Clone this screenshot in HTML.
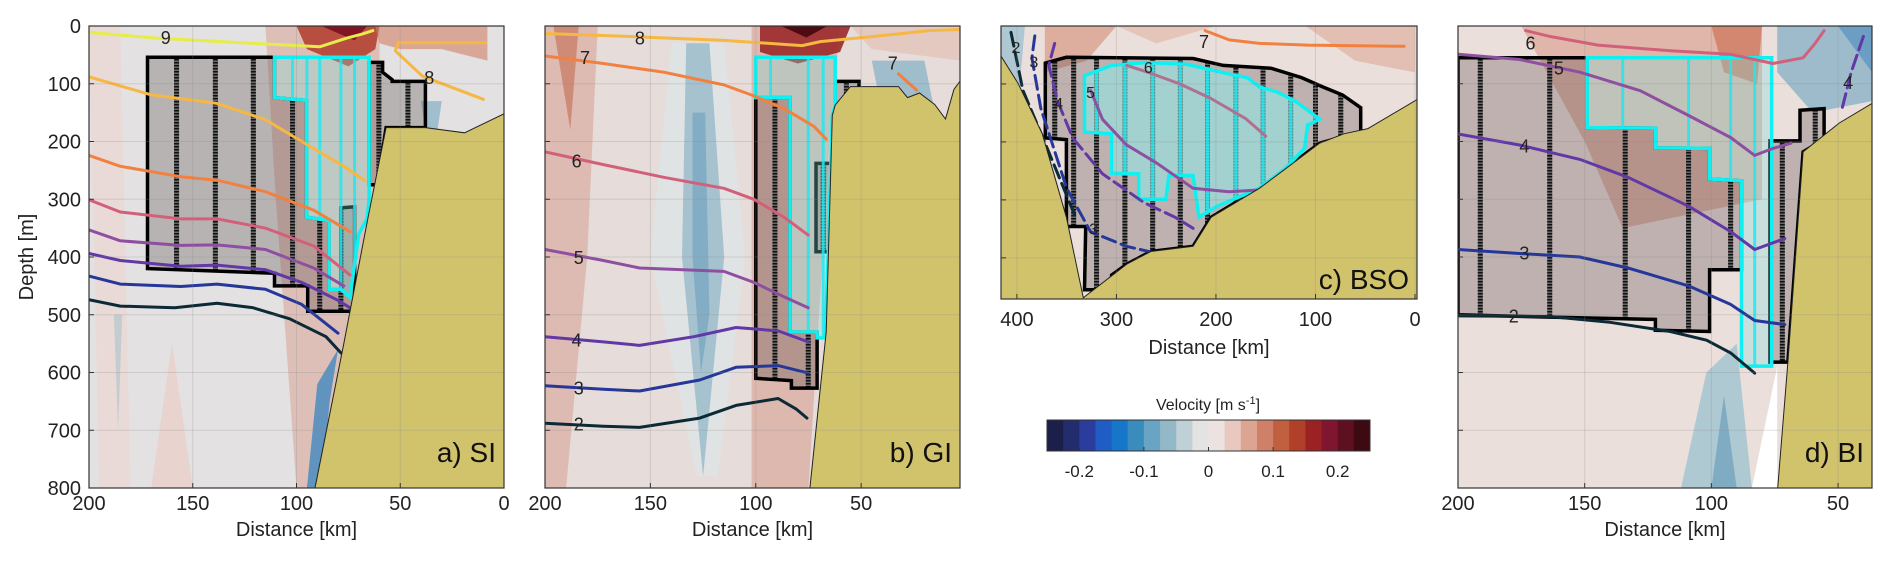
<!DOCTYPE html>
<html><head><meta charset="utf-8">
<style>
html,body{margin:0;padding:0;background:#fff;}
svg{display:block;font-family:"Liberation Sans",sans-serif;}
</style></head>
<body>
<svg id="fig" width="1892" height="568" viewBox="0 0 1892 568" xmlns="http://www.w3.org/2000/svg">
<defs id="defs"></defs>
</svg>
<script>
// ---------- DATA ----------
// panel a contours (km, m)
const a9km=[200,167.4,126.6,88.8,75.7,68.4,63.2], a9m=[11,21,29,36,21,14,8];
const a8km=[200,170.3,138.3,115,94.6,77.2,67], a8m=[88,119,134,162,206,243,268];
const a8bkm=[8.7,51,52.4,39.3,10], a8bm=[29,29,43,87,127];
const a7km=[200,184.9,155.8,138.3,115,91.7,74.2], a7m=[224,243,261,267,287,319,356];
const a6km=[200,184.9,155.8,138.3,115,91.7,74.2], a6m=[301,322,334,334,350,381,431];
const a5km=[200,184.9,155.8,138.3,115,91.7,77.2], a5m=[353,372,380,379,387,419,450];
const a4km=[200,184.9,155.8,138.3,115,97.5,80,74.2], a4m=[394,406,416,414,422,444,475,488];
const a3km=[200,184.9,155.8,138.3,115,97.5,80], a3m=[433,447,451,447,456,482,532];
const a2km=[200,184.9,158.7,138.3,120.8,103.3,85.8,78.6], a2m=[474,485,488,480,488,507,538,566];
const aBathyKm=[91.1,77.2,65.5,56.8,37.9,19,0,0], aBathyM=[800,550,331,176,176,185,152,800];
const aBoxKm=[171.8,110.6,110.6,95.2,95.2,84.4,84.4,78.6,78.6,72,72,94.6,94.6,110.6,110.6,171.8];
const aBoxM=[54,54,124,129,331,337,456,456,315,313,494,494,450,450,428,420];
const aBox2Km=[65,58.5,58.5,53.9,53.9,37.9,37.9,56.8,61.1,65], aBox2M=[63,63,80,93,96,96,176,176,275,275];
const aCyKm=[110.6,65,65,66,70,74.2,78.6,84.4,84.4,95.2,95.2,110.6], aCyM=[54,54,300,334,360,470,456,456,337,331,129,124];
const aStripKm=[157.8,139.1,120.8,101.9,88.8,78.6,69,60.3,46.3];
const aCyStripKm=[101.9,95,88.8,78.6,72];
// panel b
const b8km=[200,160.9,115.1,78,69.4,43.7,18,3], b8m=[13,18,25,34,27,18,8,6];
const b7km=[200,172.3,143.7,115.1,100.9,86.6,72.3,66.6], b7m=[52,65,80,102,121,143,174,196];
const b7bkm=[32.3,23.7], b7bm=[83,111];
const b6km=[200,172.3,143.7,115.1,100.9,86.6,75.1], b6m=[218,240,262,281,300,331,362];
const b5km=[200,172.3,155.1,115.1,100.9,86.6,75.1], b5m=[387,406,419,425,444,469,488];
const b4km=[200,172.3,155.1,129.4,109.4,89.4,75.1], b4m=[538,547,553,538,522,528,547];
const b3km=[200,172.3,155.1,126.6,109.4,89.4,75.1], b3m=[623,629,632,613,591,588,601];
const b2km=[200,172.3,155.1,126.6,109.4,89.4,80.9,75.7], b2m=[688,693,695,679,657,645,663,679];
const bBathyKm=[74.3,66.6,63.7,62.3,55.1,32.3,28,22.3,15.1,10,6,3,3], bBathyM=[800,530,155,137,105,105,124,116,136,161,110,95,800];
const bBoxKm=[100,83.7,83.7,70.9,70.9,83.1,83.1,100], bBoxM=[124,124,530,530,627,627,614,610];
const bBox2Km=[71.4,63.7,63.7,71.4], bBox2M=[238,238,391,391];
const bBox3Km=[62.3,51,51,55.1,58,62.3], bBox3M=[96,96,110,110,135,135];
const bCyKm=[100,62.3,62.3,63.7,65.5,67,70.9,70.9,83.7,83.7,100], bCyM=[54,54,137,155,380,540,540,530,530,124,124];
const bStripKm=[90.9,75.1,60];
const bCyStripKm=[93,75.1,68];
// panel c
const c7km=[210.9,186.7,156.4,108,11], c7m=[8,24,30,33,35];
const c6km=[289.7,268,236,205,170,150], c6m=[68,80,100,125,160,190];
const c5km=[326,314,290,260,223,187,157], c5m=[111,161,205,236,280,286,283];
const c4km=[362,368,359,344,314,272,241,223], c4m=[30,68,130,193,255,305,330,349];
const c3km=[382,385,376,350,326,290,260], c3m=[17,55,142,280,355,380,392];
const c2km=[406,394,371,347,341], c2m=[11,111,205,305,330];
const cBathyKm=[416,416,398.8,374.5,350.3,333.3,289.7,265.5,223,204.9,156.4,132.1,95.8,71.5,47.3,-2,-2];
const cBathyM=[480,52,99,186,330,469,411,389,380,330,280,249,202,186,177,127,480];
const cBoxKm=[371.5,350.3,223,192.7,144.3,114,92.8,72.8,54.6,54.6,95.8,132.1,156.4,204.9,223,265.5,289.7,304.9,304.9,323,332.1,330.9,350.3,350.3,371.5];
const cBoxM=[64,54,56,68,73,89,105,119,141,183,202,249,280,330,380,389,411,430,449,455,455,346,346,196,193];
const cCyKm=[332.1,304.9,271.5,229.1,186.7,168.5,156.4,138.2,120,104.9,95.8,107.9,110.9,132.1,156.4,198.8,217,223,247.3,250.3,277.6,277.6,304.9,304.9,332.1];
const cCyM=[86,68,63,66,83,89,105,114,130,149,161,171,211,249,280,311,330,258,258,299,299,255,254,186,183];
const cStripKm=[362,343,320,291.5,263.6,235.8,208.5,180,152.7,124.9,100,74.6];
// panel d
const d6km=[173.3,163.8,144.8,116.2,92.4,75.7,63.8,59,55.5], d6m=[8,18,33,43,49,65,55,30,8];
const d5km=[200,175.7,151.9,128.1,109,92.4,82.9,75.7,68.6], d5m=[49,58,80,112,155,193,224,212,203];
const d4km=[200,175.7,151.9,132.9,109,92.4,82.9,71], d4m=[187,206,231,262,312,356,387,368];
const d4bkm=[40,44.8,48.4], d4bm=[18,80,143];
const d3km=[200,175.7,151.9,132.9,109,92.4,82.9,71], d3m=[387,394,400,419,450,482,510,517];
const d2km=[200,163.8,140,116.2,101.9,92.4,82.9], d2m=[502,503,513,529,544,566,601];
const dBathyKm=[73.8,69.8,63.8,56.7,49.5,36.6,36.6], dBathyM=[800,582,218,193,168,134,800];
const dBoxKm=[200,149,149,122.1,122.1,100.7,100.7,88.1,88.1,100.7,100.7,122.1,122.1,163.8,200];
const dBoxM=[55,55,176,177,211,212,265,268,422,422,529,527,508,504,500];
const dBox2Km=[76.9,65,65,55.5,55.5,63.8,69.8,76.9], dBox2M=[199,199,146,143,196,218,582,582];
const dCyKm=[149,76.2,76.2,88.1,88.1,100.7,100.7,122.1,122.1,149], dCyM=[55,55,589,589,268,265,212,211,177,176];
const dStripKm=[191.2,163.8,134,109,92.4,82.9,72,59];
const dCyStripKm=[135,109,92.4,82.9];
// colorbar
const cbColors=["#1c1f4a","#232d6e","#2a3c9c","#1f5cc4","#1676c8","#3a8cbd","#6aa4c4","#93b8c8","#bfd0d6","#e3e3e3","#ece2df","#e8c8bf","#dca592","#d08068","#c0603e","#b0402a","#9a2222","#801530","#5e1020","#3e0a12"];
const cbTicks=[-0.2,-0.1,0,0.1,0.2];
const cbLabels=["-0.2","-0.1","0","0.1","0.2"];

// ---------- DRAWING ----------
const NS="http://www.w3.org/2000/svg";
const svg=document.getElementById('fig');
const defs=document.getElementById('defs');
function mk(tag,attrs,parent){const e=document.createElementNS(NS,tag);for(const k in attrs)e.setAttribute(k,attrs[k]);(parent||svg).appendChild(e);return e;}
function panel(x0,x1,y0,y1,kL,kR,mT,mB){return {x0,x1,y0,y1,X:k=>x0+(k-kL)/(kR-kL)*(x1-x0),Y:m=>y0+(m-mT)/(mB-mT)*(y1-y0)};}
function pts(P,ks,ms){return ks.map((k,i)=>P.X(k).toFixed(1)+','+P.Y(ms[i]).toFixed(1)).join(' ');}

const PA=panel(89,504,26,488,200,0,0,800);
const PB=panel(545,960,26,488,200,3.1,0,800);
const PC=panel(1001,1417,26,299,416,-2,0,471);
const PD=panel(1458,1872,26,488,200,36.6,0,800);

function shade(g,P,ks,ms,col,op){const e=mk('polygon',{points:pts(P,ks,ms),fill:col,'fill-opacity':op},g);}
function line(g,P,ks,ms,col,dash,name){const e=mk('polyline',{points:pts(P,ks,ms),fill:'none',stroke:col,'stroke-width':3,'stroke-linejoin':'round','stroke-linecap':'round'},g);if(dash)e.setAttribute('stroke-dasharray',dash);}
function label(g,P,k,m,t,sz){const e=mk('text',{x:P.X(k),y:P.Y(m)+6,'font-size':sz||18,fill:'#222','text-anchor':'middle'},g);e.textContent=t;}
let clipId=0;
function region(g,P,ks,ms,fill,stroke,strips,stripCol,name){
  const id='clip'+(clipId++);const cp=mk('clipPath',{id},defs);mk('polygon',{points:pts(P,ks,ms)},cp);
  const e=mk('polygon',{points:pts(P,ks,ms),fill:fill},g);
  const sg=mk('g',{'clip-path':'url(#'+id+')'},g);
  strips.forEach(k=>{const x=P.X(k);
    if(stripCol==='dark'){mk('line',{x1:x,x2:x,y1:P.y0,y2:P.y1,stroke:'#666','stroke-width':5},sg);mk('line',{x1:x,x2:x,y1:P.y0,y2:P.y1,stroke:'#111','stroke-width':5,'stroke-dasharray':'1.5 1.5'},sg);}
    else{mk('line',{x1:x,x2:x,y1:P.y0,y2:P.y1,stroke:'#22e8ee','stroke-width':3,'stroke-opacity':0.85},sg);}
  });
  const o=mk('polygon',{points:pts(P,ks,ms),fill:'none',stroke:stroke,'stroke-width':3.5,'stroke-linejoin':'miter'},g);
  
}
function frame(P,name,xt,xl,yt,yl,tag,tagBase,xlY,tickY){
  const g=mk('g',{});
  const id='pc'+(clipId++);const cp=mk('clipPath',{id},defs);mk('rect',{x:P.x0,y:P.y0,width:P.x1-P.x0,height:P.y1-P.y0},cp);
  const inner=mk('g',{'clip-path':'url(#'+id+')'},g);
  return {g,inner,finish:function(){
    const gg=mk('g',{},g);
    xt.forEach(k=>{const x=P.X(k);mk('line',{x1:x,x2:x,y1:P.y0,y2:P.y1,stroke:'#888','stroke-opacity':0.25,'stroke-width':1},gg);mk('line',{x1:x,x2:x,y1:P.y1,y2:P.y1-5,stroke:'#333'},gg);});
    yt.forEach(m=>{const y=P.Y(m);mk('line',{x1:P.x0,x2:P.x1,y1:y,y2:y,stroke:'#888','stroke-opacity':0.25,'stroke-width':1},gg);mk('line',{x1:P.x0,x2:P.x0+5,y1:y,y2:y,stroke:'#333'},gg);});
    const b=mk('rect',{x:P.x0,y:P.y0,width:P.x1-P.x0,height:P.y1-P.y0,fill:'none',stroke:'#333','stroke-width':1.2},g);
    xt.forEach((k,i)=>{const t=mk('text',{x:P.X(k),y:tickY,'font-size':20,'text-anchor':'middle',fill:'#222'},g);t.textContent=xl[i];});
    if(yl){yt.forEach((m,i)=>{const t=mk('text',{x:P.x0-8,y:P.Y(m)+7,'font-size':20,'text-anchor':'end',fill:'#222'},g);t.textContent=yl[i];});}
    const xt2=mk('text',{x:(P.x0+P.x1)/2,y:xlY,'font-size':20,'text-anchor':'middle',fill:'#222'},g);xt2.textContent='Distance [km]';
    const tg=mk('text',{x:P.x1-8,y:tagBase,'font-size':28,'text-anchor':'end',fill:'#111'},g);tg.textContent=tag;
  }};
}
const depthTicks=[0,100,200,300,400,500,600,700,800];
const depthLabels=["0","100","200","300","400","500","600","700","800"];
const C={c9:'#e6ec4a',c8:'#f6b743',c7:'#f2803f',c6:'#d2607a',c5:'#8e4fa0',c4:'#6238a6',c3:'#26379a',c2:'#0b2a36'};

// ---- Panel a
let F=frame(PA,'panel-a-si',[200,150,100,50,0],["200","150","100","50","0"],depthTicks,depthLabels,'a) SI',462,536,510);
let g=F.inner;
mk('rect',{x:PA.x0,y:PA.y0,width:415,height:462,fill:'#e3e1e1'},g);
shade(g,PA,[200,185,180,195],[0,0,800,800],'#ead8d5',0.8);
shade(g,PA,[170,150,160],[800,800,550],'#e9cfc9',0.8);
shade(g,PA,[115,60,60,85,100,110],[0,0,300,800,800,300],'#d9a89c',0.6);
shade(g,PA,[100,60,62,75,95],[0,0,40,70,40],'#b03a2a',0.85);
shade(g,PA,[88,66,72],[0,0,25],'#7a1020',0.9);
shade(g,PA,[62,8,8,30,50,60],[0,0,60,40,40,30],'#d08068',0.6);
shade(g,PA,[95,88,84,80,90],[800,800,650,560,620],'#4a8cbf',0.85);
shade(g,PA,[40,30,35],[130,130,250],'#8fb5c8',0.8);
shade(g,PA,[188,184,186],[500,500,700],'#9fbdca',0.5);
region(g,PA,aBoxKm,aBoxM,'rgba(70,55,55,0.27)','#000',aStripKm,'dark','source-water-box');
region(g,PA,aBox2Km,aBox2M,'rgba(70,55,55,0.27)','#000',[60.3,46.3],'dark','shelf-box');
region(g,PA,aCyKm,aCyM,'rgba(120,225,225,0.3)','#10f0f0',aCyStripKm,'cyan','current-core-region');
line(g,PA,a9km,a9m,C.c9,null,'contour-9');
line(g,PA,a8km,a8m,C.c8,null,'contour-8');
line(g,PA,a8bkm,a8bm,C.c8,null,'contour-8-shelf');
line(g,PA,a7km,a7m,C.c7,null,'contour-7');
line(g,PA,a6km,a6m,C.c6,null,'contour-6');
line(g,PA,a5km,a5m,C.c5,null,'contour-5');
line(g,PA,a4km,a4m,C.c4,null,'contour-4');
line(g,PA,a3km,a3m,C.c3,null,'contour-3');
line(g,PA,a2km,a2m,C.c2,null,'contour-2');
mk('polygon',{points:pts(PA,aBathyKm,aBathyM),fill:'#d1c36c',stroke:'#222','stroke-width':1},g);
label(g,PA,163,21,'9');label(g,PA,36,90,'8');
F.finish();

// ---- Panel b
F=frame(PB,'panel-b-gi',[200,150,100,50],["200","150","100","50"],depthTicks,null,'b) GI',462,536,510);
g=F.inner;
mk('rect',{x:PB.x0,y:PB.y0,width:415,height:462,fill:'#e6dcda'},g);
shade(g,PB,[200,175,180,190,200],[0,0,400,800,800],'#d9a89c',0.65);
shade(g,PB,[196,184,188],[0,0,180],'#c87860',0.7);
shade(g,PB,[140,115,105,118,128,150],[30,30,400,780,780,400],'#dfe3e4',0.9);
shade(g,PB,[133,122,115,125,135],[30,30,400,780,400],'#9bbccb',0.85);
shade(g,PB,[130,124,122,126,130],[150,150,500,600,400],'#7aa8c0',0.8);
shade(g,PB,[102,60,65,75,102],[0,0,200,800,800],'#d9a89c',0.7);
shade(g,PB,[98,55,60,80,98],[0,0,45,65,45],'#9a2a2a',0.9);
shade(g,PB,[88,66,76],[0,0,20],'#4a0a10',0.95);
shade(g,PB,[45,20,15,40],[60,60,150,150],'#8fb5c8',0.8);
shade(g,PB,[55,3,3,45],[0,0,60,40],'#e3c0b5',0.7);
region(g,PB,bBoxKm,bBoxM,'rgba(70,55,55,0.27)','#000',bStripKm,'dark','source-water-box');
region(g,PB,bBox2Km,bBox2M,'rgba(70,55,55,0.27)','#000',[68],'dark','slope-box');
region(g,PB,bBox3Km,bBox3M,'rgba(70,55,55,0.27)','#000',[57],'dark','shelf-box');
region(g,PB,bCyKm,bCyM,'rgba(120,225,225,0.3)','#10f0f0',bCyStripKm,'cyan','current-core-region');
line(g,PB,b8km,b8m,C.c8,null,'contour-8');
line(g,PB,b7km,b7m,C.c7,null,'contour-7');
line(g,PB,b7bkm,b7bm,C.c7,null,'contour-7-shelf');
line(g,PB,b6km,b6m,C.c6,null,'contour-6');
line(g,PB,b5km,b5m,C.c5,null,'contour-5');
line(g,PB,b4km,b4m,C.c4,null,'contour-4');
line(g,PB,b3km,b3m,C.c3,null,'contour-3');
line(g,PB,b2km,b2m,C.c2,null,'contour-2');
mk('polygon',{points:pts(PB,bBathyKm,bBathyM),fill:'#d1c36c',stroke:'#222','stroke-width':1},g);
label(g,PB,155,22,'8');label(g,PB,181,55,'7');label(g,PB,185,235,'6');label(g,PB,184,402,'5');label(g,PB,185,545,'4');label(g,PB,184,628,'3');label(g,PB,184,690,'2');label(g,PB,35,65,'7');
F.finish();

// ---- Panel c
F=frame(PC,'panel-c-bso',[400,300,200,100,0],["400","300","200","100","0"],[0,100,200,300,400],null,'c) BSO',289,354,326);
g=F.inner;
mk('rect',{x:PC.x0,y:PC.y0,width:416,height:273,fill:'#ebdfdc'},g);
shade(g,PC,[416,392,398,416],[0,0,120,150],'#a8c4d0',0.9);
shade(g,PC,[372,300,330,372],[0,0,60,80],'#d9a08e',0.8);
shade(g,PC,[300,200,260],[0,0,30],'#e3beb2',0.8);
shade(g,PC,[110,0,0,60],[0,0,80,60],'#e0b6a8',0.8);
region(g,PC,cBoxKm,cBoxM,'rgba(70,55,55,0.27)','#000',cStripKm,'dark','source-water-box');
region(g,PC,cCyKm,cCyM,'rgba(140,235,235,0.55)','#10f0f0',[320,291.5,263.6,235.8,208.5,180,152.7,124.9],'cyan','current-core-region');
line(g,PC,c7km,c7m,C.c7,null,'contour-7');
line(g,PC,c6km,c6m,'#b07090',null,'contour-6');
line(g,PC,c5km,c5m,C.c5,null,'contour-5');
line(g,PC,c4km,c4m,C.c4,'14 6','contour-4');
line(g,PC,c3km,c3m,C.c3,'14 6','contour-3');
line(g,PC,c2km,c2m,C.c2,'14 6','contour-2');
mk('polygon',{points:pts(PC,cBathyKm,cBathyM),fill:'#d1c36c',stroke:'#222','stroke-width':1},g);
label(g,PC,212,28,'7');label(g,PC,401,36,'2',16);label(g,PC,383,61,'3',16);label(g,PC,358,133,'4',16);label(g,PC,326,114,'5',16);label(g,PC,268,71,'6',16);label(g,PC,323,349,'3',16);
F.finish();

// ---- Panel d
F=frame(PD,'panel-d-bi',[200,150,100,50],["200","150","100","50"],depthTicks,null,'d) BI',462,536,510);
g=F.inner;
mk('rect',{x:PD.x0,y:PD.y0,width:414,height:462,fill:'#ebdfdc'},g);
shade(g,PD,[175,80,80,135,150],[0,0,300,350,200],'#d9a08e',0.65);
shade(g,PD,[100,80,82,95],[0,0,100,80],'#cf7c62',0.8);
shade(g,PD,[74,36.6,36.6,60,74],[0,0,130,150,80],'#8fb5c8',0.85);
shade(g,PD,[50,36.6,36.6],[0,0,80],'#5f97bf',0.8);
shade(g,PD,[112,84,90,102],[800,800,550,600],'#a9c6d2',0.9);
shade(g,PD,[100,90,95],[800,800,640],'#7aa8c0',0.9);
shade(g,PD,[84,74,74],[800,800,590],'#ffffff',1);
region(g,PD,dBoxKm,dBoxM,'rgba(70,55,55,0.27)','#000',dStripKm,'dark','source-water-box');
region(g,PD,dBox2Km,dBox2M,'rgba(70,55,55,0.27)','#000',[72,59],'dark','slope-box');
region(g,PD,dCyKm,dCyM,'rgba(120,225,225,0.3)','#10f0f0',dCyStripKm,'cyan','current-core-region');
line(g,PD,d6km,d6m,C.c6,null,'contour-6');
line(g,PD,d5km,d5m,C.c5,null,'contour-5');
line(g,PD,d4km,d4m,C.c4,null,'contour-4');
line(g,PD,d4bkm,d4bm,C.c4,'14 6','contour-4-shelf');
line(g,PD,d3km,d3m,C.c3,null,'contour-3');
line(g,PD,d2km,d2m,C.c2,null,'contour-2');
mk('polygon',{points:pts(PD,dBathyKm,dBathyM),fill:'#d1c36c',stroke:'#222','stroke-width':1},g);
label(g,PD,171.4,30,'6');label(g,PD,160.2,74,'5');label(g,PD,173.8,209,'4');label(g,PD,173.8,394,'3');label(g,PD,178,503,'2');label(g,PD,46,99,'4');
F.finish();

// y-axis title
const yt=mk('text',{x:0,y:0,'font-size':20,'text-anchor':'middle',fill:'#222',transform:'translate(33,257) rotate(-90)'});
yt.textContent='Depth [m]';

// colorbar
const cb=mk('g',{});
const cbX0=1047,cbX1=1370,cbY=420,cbH=31,vMin=-0.25,vMax=0.25;
const cbX=v=>cbX0+(v-vMin)/(vMax-vMin)*(cbX1-cbX0);
cbColors.forEach((c,i)=>{const v0=vMin+i*(vMax-vMin)/cbColors.length,v1=v0+(vMax-vMin)/cbColors.length;
  const r=mk('rect',{x:cbX(v0),y:cbY,width:cbX(v1)-cbX(v0)+0.5,height:cbH,fill:c},cb);});
mk('rect',{x:cbX0,y:cbY,width:cbX1-cbX0,height:cbH,fill:'none',stroke:'#333','stroke-width':1},cb);
cbTicks.forEach((v,i)=>{mk('line',{x1:cbX(v),x2:cbX(v),y1:cbY+cbH,y2:cbY+cbH-4,stroke:'#333'},cb);
  const t=mk('text',{x:cbX(v),y:477,'font-size':17,'text-anchor':'middle',fill:'#222'},cb);t.textContent=cbLabels[i];});
const ct=mk('text',{x:1208,y:410,'font-size':16,'text-anchor':'middle',fill:'#222'},cb);
ct.innerHTML='Velocity [m s<tspan dy="-6" font-size="11">-1</tspan><tspan dy="6">]</tspan>';

</script>
</body></html>
